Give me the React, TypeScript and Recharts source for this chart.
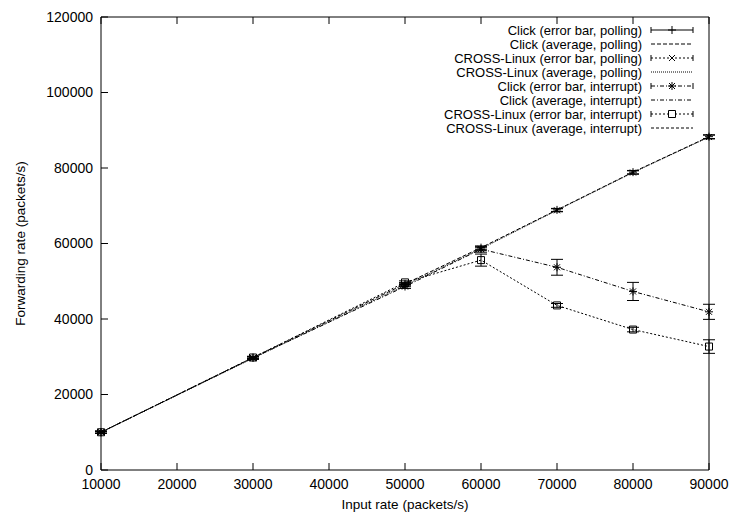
import React from 'react';
import { ComposedChart, Line, XAxis, YAxis, ErrorBar } from 'recharts';

// input rates measured (packets/s)
const inputRates = [10000, 30000, 50000, 60000, 70000, 80000, 90000];

// forwarding rates (packets/s)
const clickPolling = [10000, 29800, 49300, 58900, 68900, 78900, 88300];
const clickPollingErr = [250, 300, 350, 400, 400, 450, 500];
const crossPolling = [10000, 29600, 48900, 58600, 68800, 78800, 88200];
const crossPollingErr = [250, 300, 350, 400, 400, 450, 500];
const clickInterrupt = [10000, 29700, 48600, 58500, 53700, 47300, 41900];
const clickInterruptErr = [300, 300, 500, 800, 2100, 2400, 2000];
const crossInterrupt = [10000, 29800, 49700, 55600, 43600, 37200, 32700];
const crossInterruptErr = [300, 300, 400, 1600, 500, 600, 1800];

const xTicks = [10000, 20000, 30000, 40000, 50000, 60000, 70000, 80000, 90000];
const yTicks = [0, 20000, 40000, 60000, 80000, 100000, 120000];

const legendLabels = [
  'Click (error bar, polling)',
  'Click (average, polling)',
  'CROSS-Linux (error bar, polling)',
  'CROSS-Linux (average, polling)',
  'Click (error bar, interrupt)',
  'Click (average, interrupt)',
  'CROSS-Linux (error bar, interrupt)',
  'CROSS-Linux (average, interrupt)',
];

const data = inputRates.map((x, i) => ({
  x,
  clickPolling: clickPolling[i],
  clickPollingErr: clickPollingErr[i],
  crossPolling: crossPolling[i],
  crossPollingErr: crossPollingErr[i],
  clickInterrupt: clickInterrupt[i],
  clickInterruptErr: clickInterruptErr[i],
  crossInterrupt: crossInterrupt[i],
  crossInterruptErr: crossInterruptErr[i],
}));

const FONT = '"Liberation Sans", Arial, Helvetica, sans-serif';
const INK = '#000';
const FS = 14;

type Shape = 'plus' | 'cross' | 'star' | 'square';

function markerPath(shape: Shape, cx: number, cy: number) {
  const s = 4;
  const d = 3;
  const plus = `M${cx - s},${cy}H${cx + s}M${cx},${cy - s}V${cy + s}`;
  const cross = `M${cx - d},${cy - d}L${cx + d},${cy + d}M${cx - d},${cy + d}L${cx + d},${cy - d}`;
  if (shape === 'plus') return plus;
  if (shape === 'cross') return cross;
  if (shape === 'star') return plus + cross;
  return `M${cx - 3.5},${cy - 3.5}h7v7h-7z`;
}

const dotFor = (shape: Shape) => (props: any) => {
  const { cx, cy, index } = props;
  if (cx == null || cy == null) return <g key={`${shape}-${index}`} />;
  return (
    <path
      key={`${shape}-${index}`}
      d={markerPath(shape, cx, cy)}
      stroke={INK}
      strokeWidth={1}
      fill="none"
    />
  );
};

const legendRows: { dash?: string; shape?: Shape }[] = [
  { dash: undefined, shape: 'plus' },
  { dash: '4 2' },
  { dash: '2 2', shape: 'cross' },
  { dash: '1 1' },
  { dash: '4 2 1 2', shape: 'star' },
  { dash: '4 2 1 2' },
  { dash: '2 2', shape: 'square' },
  { dash: '3 2' },
];

function KeyBox() {
  const x0 = 651;
  const x1 = 693;
  return (
    <svg
      width={730}
      height={140}
      style={{ position: 'absolute', left: 0, top: 0, pointerEvents: 'none' }}
    >
      {legendRows.map((row, i) => {
        const y = 30 + i * 14;
        const mid = (x0 + x1) / 2;
        return (
          <g key={legendLabels[i]}>
            <text x={642} y={y + 4.6} textAnchor="end" fontSize={13} fontFamily={FONT} fill={INK}>
              {legendLabels[i]}
            </text>
            <line x1={x0} y1={y} x2={x1} y2={y} stroke={INK} strokeDasharray={row.dash} />
            {row.shape && (
              <>
                <path d={`M${x0},${y - 3}V${y + 3}M${x1},${y - 3}V${y + 3}`} stroke={INK} />
                <path d={markerPath(row.shape, mid, y)} stroke={INK} fill={row.shape === 'square' ? '#fff' : 'none'} />
              </>
            )}
          </g>
        );
      })}
    </svg>
  );
}

export default function App() {
  const tickStyle = { fill: INK, fontSize: FS, fontFamily: FONT };
  const titleStyle = { fill: INK, fontSize: 13.5, fontFamily: FONT };
  return (
    <div style={{ position: 'relative', width: 730, height: 512, background: '#fff' }}>
      <style>{'body{margin:0}'}</style>
      <ComposedChart width={730} height={512} data={data} margin={{ top: 0, right: 0, bottom: 0, left: 0 }}>
        <XAxis
          xAxisId="b"
          dataKey="x"
          type="number"
          domain={[10000, 90000]}
          ticks={xTicks}
          height={42}
          tickSize={-7}
          tickMargin={16}
          stroke={INK}
          tick={tickStyle}
          interval={0}
          label={{ value: 'Input rate (packets/s)', position: 'insideBottom', offset: 3, style: titleStyle }}
        />
        <XAxis
          xAxisId="t"
          orientation="top"
          dataKey="x"
          type="number"
          domain={[10000, 90000]}
          ticks={xTicks}
          height={17}
          tickSize={-7}
          stroke={INK}
          tickFormatter={() => ''}
          interval={0}
        />
        <YAxis
          yAxisId="l"
          type="number"
          domain={[0, 120000]}
          ticks={yTicks}
          width={101}
          tickSize={-7}
          tickMargin={15}
          stroke={INK}
          tick={tickStyle}
          interval={0}
          label={{ value: 'Forwarding rate (packets/s)', angle: -90, position: 'insideLeft', offset: 20, style: { ...titleStyle, textAnchor: 'middle' } }}
        />
        <YAxis
          yAxisId="r"
          orientation="right"
          type="number"
          domain={[0, 120000]}
          ticks={yTicks}
          width={21}
          tickSize={-7}
          stroke={INK}
          tickFormatter={() => ''}
          interval={0}
        />

        {/* averages */}
        <Line xAxisId="b" yAxisId="l" dataKey="clickPolling" stroke={INK} strokeWidth={1} strokeDasharray="4 2" dot={false} activeDot={false} isAnimationActive={false} />
        <Line xAxisId="b" yAxisId="l" dataKey="crossPolling" stroke={INK} strokeWidth={1} strokeDasharray="1 1" dot={false} activeDot={false} isAnimationActive={false} />
        <Line xAxisId="b" yAxisId="l" dataKey="clickInterrupt" stroke={INK} strokeWidth={1} strokeDasharray="4 2 1 2" dot={false} activeDot={false} isAnimationActive={false} />
        <Line xAxisId="b" yAxisId="l" dataKey="crossInterrupt" stroke={INK} strokeWidth={1} strokeDasharray="2 2" dot={false} activeDot={false} isAnimationActive={false} />

        {/* error bars with markers */}
        <Line xAxisId="b" yAxisId="l" dataKey="clickPolling" stroke="none" dot={dotFor('plus')} activeDot={false} isAnimationActive={false}>
          <ErrorBar dataKey="clickPollingErr" direction="y" width={6} stroke={INK} strokeWidth={1} isAnimationActive={false} />
        </Line>
        <Line xAxisId="b" yAxisId="l" dataKey="crossPolling" stroke="none" dot={dotFor('cross')} activeDot={false} isAnimationActive={false}>
          <ErrorBar dataKey="crossPollingErr" direction="y" width={6} stroke={INK} strokeWidth={1} isAnimationActive={false} />
        </Line>
        <Line xAxisId="b" yAxisId="l" dataKey="clickInterrupt" stroke="none" dot={dotFor('star')} activeDot={false} isAnimationActive={false}>
          <ErrorBar dataKey="clickInterruptErr" direction="y" width={6} stroke={INK} strokeWidth={1} isAnimationActive={false} />
        </Line>
        <Line xAxisId="b" yAxisId="l" dataKey="crossInterrupt" stroke="none" dot={dotFor('square')} activeDot={false} isAnimationActive={false}>
          <ErrorBar dataKey="crossInterruptErr" direction="y" width={6} stroke={INK} strokeWidth={1} isAnimationActive={false} />
        </Line>
      </ComposedChart>
      <KeyBox />
    </div>
  );
}
